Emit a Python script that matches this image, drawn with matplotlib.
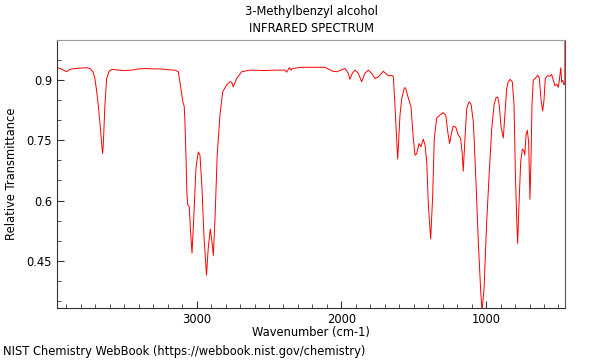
import matplotlib
matplotlib.use("Agg")
import matplotlib.pyplot as plt
from matplotlib.ticker import MultipleLocator

# wavenumber (cm-1) and relative transmittance
wavenumber = [
    3965, 3940, 3915, 3898, 3880, 3860, 3841, 3800, 3760, 3737,
    3715, 3703, 3690, 3680, 3665, 3655, 3650, 3645, 3634, 3622,
    3605, 3587, 3540, 3500, 3449, 3400, 3350, 3300, 3250, 3200,
    3150, 3127, 3109, 3095, 3086, 3081, 3074, 3068, 3062, 3051,
    3042, 3032, 3019, 3005, 2989, 2977, 2963, 2950, 2932, 2920,
    2906, 2894, 2885, 2874, 2858, 2839, 2820, 2793, 2770, 2758,
    2747, 2724, 2689, 2632, 2528, 2450, 2390, 2378, 2360, 2348,
    2337, 2300, 2265, 2200, 2113, 2058, 2032, 1975, 1952, 1941,
    1925, 1906, 1883, 1860, 1837, 1814, 1791, 1768, 1745, 1710,
    1676, 1652, 1641, 1630, 1618, 1611, 1595, 1583, 1565, 1556,
    1538, 1519, 1503, 1491, 1480, 1464, 1450, 1434, 1422, 1410,
    1399, 1383, 1369, 1358, 1341, 1319, 1296, 1279, 1265, 1252,
    1238, 1227, 1210, 1192, 1176, 1164, 1158, 1146, 1134, 1118,
    1104, 1088, 1068, 1054, 1037, 1028, 1014, 996, 978, 961,
    945, 932, 920, 909, 897, 881, 869, 858, 847, 835,
    819, 807, 798, 788, 782, 773, 761, 750, 740, 733,
    724, 715, 706, 697, 690, 683, 674, 657, 643, 632,
    621, 609, 600, 591, 577, 558, 547, 536, 524, 512,
    501, 494, 484, 478, 471, 462, 456, 455,
]
transmittance = [
    0.931, 0.929, 0.924, 0.921, 0.926, 0.928, 0.929, 0.930, 0.931, 0.929,
    0.920, 0.904, 0.870, 0.838, 0.780, 0.735, 0.717, 0.740, 0.838, 0.904,
    0.922, 0.927, 0.925, 0.924, 0.925, 0.928, 0.929, 0.928, 0.928, 0.926,
    0.925, 0.921, 0.880, 0.845, 0.835, 0.796, 0.713, 0.622, 0.590, 0.584,
    0.522, 0.469, 0.564, 0.680, 0.721, 0.713, 0.630, 0.514, 0.414, 0.481,
    0.529, 0.497, 0.463, 0.547, 0.713, 0.813, 0.871, 0.888, 0.896, 0.895,
    0.883, 0.904, 0.921, 0.925, 0.924, 0.925, 0.925, 0.920, 0.931, 0.925,
    0.929, 0.931, 0.932, 0.932, 0.932, 0.922, 0.921, 0.929, 0.917, 0.902,
    0.917, 0.925, 0.917, 0.896, 0.917, 0.925, 0.917, 0.904, 0.908, 0.922,
    0.911, 0.912, 0.909, 0.838, 0.755, 0.703, 0.813, 0.854, 0.881, 0.880,
    0.856, 0.834, 0.755, 0.713, 0.716, 0.742, 0.734, 0.753, 0.738, 0.696,
    0.588, 0.504, 0.613, 0.755, 0.806, 0.813, 0.819, 0.813, 0.771, 0.742,
    0.770, 0.785, 0.783, 0.763, 0.755, 0.713, 0.673, 0.755, 0.829, 0.846,
    0.840, 0.796, 0.630, 0.497, 0.372, 0.325, 0.381, 0.547, 0.671, 0.780,
    0.838, 0.856, 0.858, 0.838, 0.784, 0.756, 0.822, 0.879, 0.896, 0.902,
    0.896, 0.838, 0.671, 0.547, 0.493, 0.588, 0.696, 0.728, 0.725, 0.713,
    0.763, 0.775, 0.745, 0.603, 0.700, 0.838, 0.900, 0.906, 0.912, 0.905,
    0.854, 0.823, 0.850, 0.904, 0.911, 0.910, 0.914, 0.900, 0.886, 0.890,
    0.882, 0.900, 0.931, 0.895, 0.900, 0.889, 0.889, 1.100,
]

fig = plt.figure(figsize=(6, 3.6), dpi=100)
ax = fig.add_axes([0.095, 0.1444, 0.8467, 0.7444])

ax.plot(wavenumber, transmittance, color="#ff0000", lw=0.7)

ax.set_xlim(3965, 454.7)
ax.set_ylim(0.332, 1.0)

ax.xaxis.set_major_locator(MultipleLocator(1000))
ax.xaxis.set_minor_locator(MultipleLocator(100))
ax.yaxis.set_minor_locator(MultipleLocator(0.05))
ax.set_yticks([0.45, 0.6, 0.75, 0.9])
ax.set_yticklabels(["0.45", "0.6", "0.75", "0.9"])

ax.tick_params(which="both", direction="in", top=False, right=False,
               labelsize=8.3, color="#333333")
ax.tick_params(which="major", length=5)
ax.tick_params(which="minor", length=3)

ax.spines["top"].set_color("#999999")
ax.spines["right"].set_color("#555555")
ax.spines["left"].set_color("#333333")
ax.spines["bottom"].set_color("#333333")

ax.set_xlabel("Wavenumber (cm-1)", fontsize=8.3, labelpad=0)
ax.set_ylabel("Relative Transmittance", fontsize=8.3, labelpad=6)

# two title lines, placed separately to match spacing
cx = 0.095 + 0.8467 / 2
fig.text(cx, 1 - 12 / 360, "3-Methylbenzyl alcohol", fontsize=8.3,
         ha="center", va="center")
fig.text(cx, 1 - 29 / 360, "INFRARED SPECTRUM", fontsize=8.3,
         ha="center", va="center")

fig.text(0.005, 1 - 352 / 360,
         "NIST Chemistry WebBook (https://webbook.nist.gov/chemistry)",
         fontsize=8.3, va="center", ha="left")

fig.savefig("out.png", dpi=100)
